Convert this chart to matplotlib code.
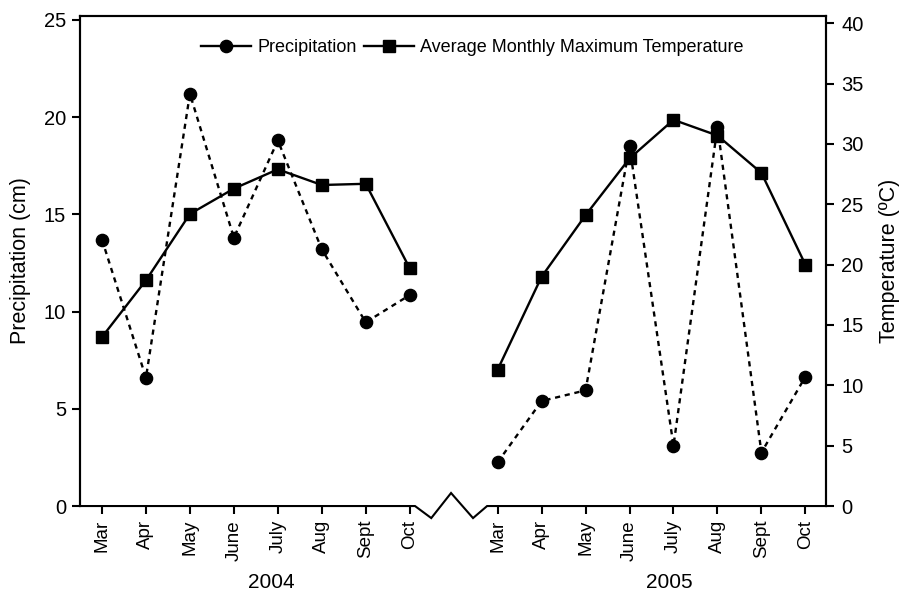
# Precipitación y temperatura máxima mensual, 2004 y 2005
import matplotlib.pyplot as plt
from matplotlib.lines import Line2D

plt.rcParams['font.family'] = ['Liberation Sans', 'DejaVu Sans']

# Datos
months = ['Mar', 'Apr', 'May', 'June', 'July', 'Aug', 'Sept', 'Oct']
years = ['2004', '2005']
precip_2004 = [13.7, 6.6, 21.2, 13.8, 18.8, 13.2, 9.45, 10.85]
precip_2005 = [2.25, 5.4, 5.95, 18.5, 3.1, 19.5, 2.75, 6.65]
temp_2004 = [14.0, 18.7, 24.2, 26.3, 27.9, 26.6, 26.7, 19.7]
temp_2005 = [11.3, 19.0, 24.1, 28.8, 32.0, 30.7, 27.6, 20.0]

# Posiciones en el eje x (hueco de una posición entre los dos años)
x_2004 = list(range(8))
x_2005 = [i + 9 for i in range(8)]

fig = plt.figure(figsize=(9.01, 5.94), dpi=100)
ax = fig.add_axes([0.0888, 0.1481, 0.8280, 0.8249])
ax2 = ax.twinx()

lw = 1.7
ax.plot(x_2004, precip_2004, color='black', linestyle=(0, (2.2, 2.0)), linewidth=lw,
        marker='o', markersize=8.8, zorder=3)
ax.plot(x_2005, precip_2005, color='black', linestyle=(0, (2.2, 2.0)), linewidth=lw,
        marker='o', markersize=8.8, zorder=3)
ax2.plot(x_2004, temp_2004, color='black', linestyle='-', linewidth=lw,
         marker='s', markersize=8.2, zorder=3)
ax2.plot(x_2005, temp_2005, color='black', linestyle='-', linewidth=lw,
         marker='s', markersize=8.2, zorder=3)

ax.set_xlim(-0.5, 16.47)
ax.set_ylim(0, 25.2)
ax2.set_ylim(0, 40.6)

ax.set_yticks([0, 5, 10, 15, 20, 25])
ax2.set_yticks([0, 5, 10, 15, 20, 25, 30, 35, 40])
ax.set_xticks(x_2004 + x_2005)
ax.set_xticklabels(months + months, rotation=90, fontsize=13.5)

ax.tick_params(axis='y', labelsize=14.5, length=6, width=1.5, direction='out', pad=4)
ax2.tick_params(axis='y', labelsize=14.5, length=6, width=1.5, direction='out', pad=5)
ax.tick_params(axis='x', length=6, width=1.5, direction='out', pad=4)

ax.set_ylabel('Precipitation (cm)', fontsize=15.5, labelpad=9)
ax2.set_ylabel('Temperature (ºC)', fontsize=15.5, labelpad=11)

for a in (ax, ax2):
    for s in a.spines.values():
        s.set_linewidth(1.5)
    a.spines['bottom'].set_visible(False)

# Eje inferior con marca de corte
ax.plot([-0.5, 7.12, 7.49, 7.94, 8.44, 8.76, 16.47],
        [0, 0, -0.62, 0.67, -0.62, 0, 0],
        color='black', linewidth=1.5, clip_on=False, zorder=5,
        solid_joinstyle='miter')

# Etiquetas de año
ax.text(3.86, -3.95, years[0], ha='center', va='center', fontsize=15)
ax.text(12.9, -3.95, years[1], ha='center', va='center', fontsize=15)

# Leyenda
handles = [
    Line2D([], [], color='black', linewidth=lw, marker='o', markersize=8.8),
    Line2D([], [], color='black', linewidth=lw, marker='s', markersize=8.2),
]
ax.legend(handles, ['Precipitation', 'Average Monthly Maximum Temperature'],
          loc='center', bbox_to_anchor=(0.526, 0.935), ncol=2, frameon=False,
          fontsize=13, handlelength=2.75, handletextpad=0.35, columnspacing=0.4)

plt.savefig('out.png', dpi=100)
plt.close()
